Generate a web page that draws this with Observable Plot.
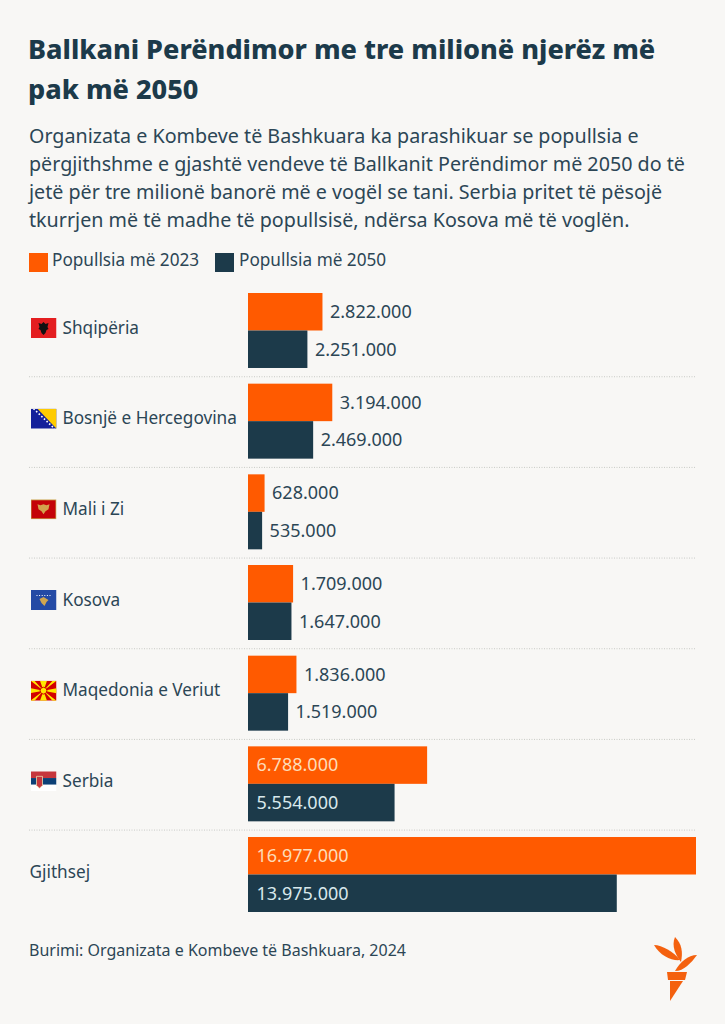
<!DOCTYPE html>
<html lang="sq">
<head>
<meta charset="utf-8">
<script src="https://cdn.jsdelivr.net/npm/d3@7"></script>
<script src="https://cdn.jsdelivr.net/npm/@observablehq/plot@0.6"></script>
<style>
html,body{margin:0;padding:0;background:#f8f7f5;}
body{position:relative;width:725px;height:1024px;overflow:hidden;font-family:"Noto Sans",sans-serif;color:#1c3a4a;}
.t{position:absolute;white-space:nowrap;}
#title{left:28px;top:29px;font-size:27px;font-weight:800;line-height:40px;}
#sub{left:29px;top:122px;font-size:19.7px;line-height:28px;color:#2c4655;}
.sw{position:absolute;top:253px;width:19px;height:19px;}
.lg{top:249px;font-size:17.2px;line-height:22px;color:#2c4655;}
#src{left:29px;top:939px;font-size:16px;line-height:22px;color:#2c4655;}
#chart{position:absolute;left:0;top:285px;}
#logo{position:absolute;left:600px;top:900px;}
</style>
</head>
<body>
<div class="t" id="title">Ballkani Perëndimor me tre milionë njerëz më<br>pak më 2050</div>
<div class="t" id="sub">Organizata e Kombeve të Bashkuara ka parashikuar se popullsia e<br>përgjithshme e gjashtë vendeve të Ballkanit Perëndimor më 2050 do të<br>jetë për tre milionë banorë më e vogël se tani. Serbia pritet të pësojë<br>tkurrjen më të madhe të popullsisë, ndërsa Kosova më të voglën.</div>
<div class="sw" style="left:29px;background:#ff5a00"></div>
<div class="t lg" style="left:52px">Popullsia më 2023</div>
<div class="sw" style="left:215px;background:#1c3a4a"></div>
<div class="t lg" style="left:239px">Popullsia më 2050</div>
<div id="chart"></div>
<div class="t" id="src">Burimi: Organizata e Kombeve të Bashkuara, 2024</div>
<svg id="logo" width="125" height="124" viewBox="0 0 125 124">
<g fill="#f4610f">
<path d="M54 45C62 45 74 52 80 60C72 61 60 56 54 45Z"/>
<path d="M75 37C82 44 83 52 81 62C76 56 71 46 75 37Z"/>
<path d="M97 55C88 55 80 62 75 71C84 71 91 63 97 55Z"/>
<path d="M67 72H87L85 80H68Z"/>
<path d="M70 81H83L70 101Z"/>
</g>
</svg>
<script>
const countries = ["Shqipëria", "Bosnjë e Hercegovina", "Mali i Zi", "Kosova", "Maqedonia e Veriut", "Serbia", "Gjithsej"];
const pop2023 = [2822000, 3194000, 628000, 1709000, 1836000, 6788000, 16977000];
const pop2050 = [2251000, 2469000, 535000, 1647000, 1519000, 5554000, 13975000];
const seriesNames = ["2023", "2050"];
const seriesColors = ["#ff5a00", "#1c3a4a"];
const insideCountries = ["Serbia", "Gjithsej"];

const flagBodies = {
  "Shqipëria": '<rect width="26" height="20" fill="#e41e20"/><path d="M13 4l2 2 3-1-1 4 1 2-2 1-1 3-2 2-2-2-1-3-2-1 1-2-1-4 3 1z" fill="#111"/>',
  "Bosnjë e Hercegovina": '<rect width="26" height="20" fill="#14209a"/><path d="M7 0H26V20z" fill="#fecb00"/><path d="M3 0L24 20" stroke="#fff" stroke-width="1.6" stroke-dasharray="1.6 2"/>',
  "Mali i Zi": '<rect width="26" height="20" fill="#c8a24a"/><rect x="1" y="1" width="24" height="18" fill="#c40308"/><path d="M13 5l3 1 3-1-1 5-3 2-2 3-2-3-3-2-1-5 3 1z" fill="#d3a24d"/>',
  "Kosova": '<rect width="26" height="20" fill="#244aa5"/><path d="M9 9l4-2 5 3-2 2-2 4-3-3z" fill="#d0a650"/><path d="M6 5.5H20" stroke="#fff" stroke-width="1" stroke-dasharray="1 1.6"/>',
  "Maqedonia e Veriut": '<rect width="26" height="20" fill="#d20000"/><path d="M0 0H4L13 10 9.500 0H16.500L13 10 22 0H26L13 10 26 20H22L13 10 16.500 20H9.500L13 10 4 20H0L13 10zM0 7.500V12.500L13 10zM26 7.500V12.500L13 10z" fill="#ffe600"/><circle cx="13" cy="10" r="3.400" fill="#ffe600" stroke="#d20000"/>',
  "Serbia": '<rect width="26" height="6.700" fill="#c6363c"/><rect y="6.700" width="26" height="6.700" fill="#0c4076"/><rect y="13.400" width="26" height="6.600" fill="#fff"/><path d="M6 5H12V14L9 17 6 14z" fill="#c6363c" stroke="#e8d9b0" stroke-width=".8"/>'
};
const flagUri = n => "data:image/svg+xml;utf8," + encodeURIComponent(`<svg xmlns="http://www.w3.org/2000/svg" viewBox="0 0 26 20" width="26" height="20">${flagBodies[n]}</svg>`);

const fmt = v => d3.format(",")(v).replace(/,/g, ".");
const rows = countries.flatMap((c, i) => [
  {country: c, series: seriesNames[0], value: pop2023[i]},
  {country: c, series: seriesNames[1], value: pop2050[i]}
]);
const inside = d => insideCountries.includes(d.country);
const xMin = -8299000, xMax = 16977000;
const facet = {fy: "country"};
const labelStyle = {textAnchor: "start", fontSize: 17.2, fill: "#2c4655"};
const valueStyle = {textAnchor: "start", fontSize: 18};

const chart = Plot.plot({
  width: 725, height: 635,
  marginLeft: 29, marginRight: 29, marginTop: 8, marginBottom: 8,
  style: {background: "transparent", fontFamily: '"Noto Sans",sans-serif'},
  x: {domain: [xMin, xMax], axis: null},
  y: {domain: seriesNames, axis: null, padding: 0, round: false},
  fy: {domain: countries, axis: null, paddingInner: 0.173, paddingOuter: 0, round: false},
  color: {domain: seriesNames, range: seriesColors},
  marks: [
    Plot.ruleY(countries.slice(0, -1).map(c => ({country: c})), {
      ...facet, y: () => seriesNames[1], dy: 27,
      stroke: "#c9cac6", strokeWidth: 1, strokeDasharray: "1 1.5"
    }),
    Plot.barX(rows, {...facet, x1: () => 0, x2: "value", y: "series", fill: "series"}),
    Plot.text(rows.filter(d => !inside(d)), {
      ...facet, ...valueStyle, x: "value", y: "series", text: d => fmt(d.value),
      dx: 7, fill: "#2c4655"
    }),
    Plot.text(rows.filter(inside), {
      ...facet, ...valueStyle, x: () => 0, y: "series", text: d => fmt(d.value),
      dx: 8, fill: d => d.series === seriesNames[0] ? "#fddcb8" : "#d8e8ec"
    }),
    Plot.text(countries.filter(c => !flagBodies[c]).map(c => ({country: c})), {
      ...facet, ...labelStyle, x: () => xMin, text: "country", dy: -3
    }),
    Plot.text(countries.filter(c => flagBodies[c]).map(c => ({country: c})), {
      ...facet, ...labelStyle, x: () => xMin, text: "country", dx: 33, dy: -3
    }),
    Plot.image(countries.filter(c => flagBodies[c]).map(c => ({country: c})), {
      ...facet, x: () => xMin, src: d => flagUri(d.country),
      width: 26, height: 20, dx: 14, dy: -3
    })
  ]
});
document.getElementById("chart").appendChild(chart);
</script>
</body>
</html>
